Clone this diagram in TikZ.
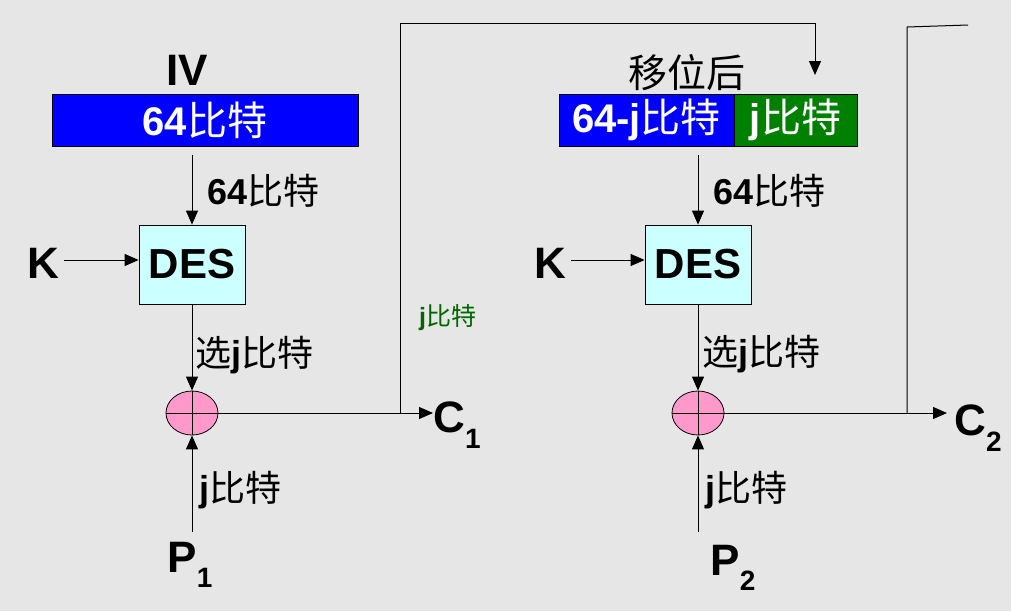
\documentclass[tikz,border=0pt]{standalone}
\usepackage{fontspec}
\setmainfont{Liberation Sans}
\newfontfamily\cjk{Noto Sans CJK SC}
\usetikzlibrary{shapes.geometric,arrows.meta}
\definecolor{bggray}{HTML}{E6E6E6}
\definecolor{desfill}{HTML}{CCFFFF}
\definecolor{xorfill}{HTML}{FF99CC}
\definecolor{regblue}{HTML}{0000FF}
\definecolor{reggreen}{HTML}{008000}
\definecolor{lblgreen}{HTML}{006600}
\newcommand{\bits}{{\cjk\mdseries 比特}}
\newcommand{\idx}[1]{\raisebox{-0.35em}{\fontsize{28}{28}\selectfont #1}}
\tikzset{
  reg/.style={draw,line width=1pt,text=white,minimum height=52pt,inner sep=0pt,
    font=\fontsize{40}{40}\selectfont\bfseries},
  desbox/.style={draw,line width=0.8pt,fill=desfill,minimum width=106pt,minimum height=79pt,
    font=\fontsize{42}{42}\selectfont\bfseries},
  xorop/.style={ellipse,draw,line width=0.8pt,fill=xorfill,minimum width=52pt,minimum height=44pt,inner sep=0pt},
  big/.style={inner sep=0pt,font=\fontsize{44}{44}\selectfont\bfseries},
  lbl/.style={anchor=west,inner sep=0pt,font=\fontsize{36}{36}\selectfont\bfseries},
  arr/.style={line width=1pt,-{Triangle[length=14pt,width=12pt]}}
}
\begin{document}
\begin{tikzpicture}[x=1pt,y=-1pt]
\fill [bggray] (0,0) rectangle (1011,611);
\useasboundingbox (0,0) rectangle (1011,611);

% first stage
\node [big] (iv) at (187,70) {IV};
\node [reg,fill=regblue,minimum width=306pt] (reg1) at (205,120) {64\bits};
\coordinate (in1) at (192,155);
\node [desbox] (des1) at (192,264.5) {DES};
\node [big] (k1) at (43,263) {K};
\node [xorop] (xor1) at (192,413) {};
\node [big] (p1) at (190,565) {P\idx{1}};
\coordinate (p1top) at (192,532);
\node [big] (c1) at (457,425) {C\idx{1}};
\coordinate (c1end) at (433,413);
\coordinate (fb1a) at (400,413);
\coordinate (fb1b) at (400,23);
\coordinate (fb1c) at (815,23);
\coordinate (fb1d) at (815,75);

\draw [arr] (in1) -- (des1);
\draw [arr] (k1.east) ++(5,-3) coordinate (k1out) -- (k1out -| des1.west);
\draw [arr] (des1) -- (xor1);
\draw [arr] (p1top) -- (xor1);
\draw [line width=0.8pt] (xor1.north) -- (xor1.south) (xor1.west) -- (xor1.east);
\draw [arr] (xor1) -- (c1end);
\draw [line width=1pt] (fb1a) -- (fb1b) -- (fb1c);
\draw [arr] (fb1c) -- (fb1d);

\node [lbl] (l64a) at (207,191) {64\bits};
\node [lbl] (lsel1) at (195,355) {{\cjk\mdseries 选}j\bits};
\node [lbl] (lj1) at (199,490) {j\bits};
\node [lbl,text=lblgreen,font=\fontsize{25}{25}\selectfont\bfseries] (lfb) at (419,318) {j\bits};

% second stage
\node [inner sep=0pt,font=\fontsize{39}{39}\selectfont\cjk] (shift) at (687,73) {移位后};
\node [reg,fill=regblue,minimum width=175pt] (reg2a) at (646.5,120) {64-j\bits};
\node [reg,fill=reggreen,minimum width=123pt] (reg2b) at (795.5,120) {j\bits};
\coordinate (in2) at (698,155);
\node [desbox] (des2) at (698,264.5) {DES};
\node [big] (k2) at (550,263) {K};
\node [xorop] (xor2) at (698,413) {};
\node [big] (p2) at (733,568) {P\idx{2}};
\coordinate (p2top) at (698,532);
\node [big] (c2) at (978,428) {C\idx{2}};
\coordinate (c2end) at (947,413);
\coordinate (fb2a) at (907,413);
\coordinate (fb2b) at (907,27);
\coordinate (fb2c) at (968,25);

\draw [arr] (in2) -- (des2);
\draw [arr] (k2.east) ++(5,-3) coordinate (k2out) -- (k2out -| des2.west);
\draw [arr] (des2) -- (xor2);
\draw [arr] (p2top) -- (xor2);
\draw [line width=0.8pt] (xor2.north) -- (xor2.south) (xor2.west) -- (xor2.east);
\draw [arr] (xor2) -- (c2end);
\draw [line width=1pt] (fb2a) -- (fb2b) -- (fb2c);

\node [lbl] (l64b) at (713,191) {64\bits};
\node [lbl] (lsel2) at (702,354) {{\cjk\mdseries 选}j\bits};
\node [lbl] (lj2) at (705,490) {j\bits};
\end{tikzpicture}
\end{document}
